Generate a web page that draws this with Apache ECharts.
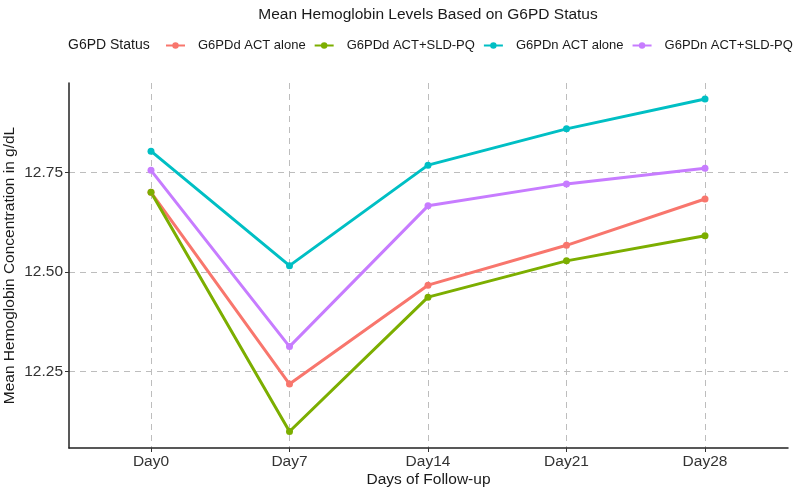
<!DOCTYPE html>
<html>
<head>
<meta charset="utf-8">
<script src="https://cdn.jsdelivr.net/npm/echarts@6/dist/echarts.min.js"></script>
<style>html,body{margin:0;padding:0;background:#fff;}#c{width:797px;height:489px;}</style>
</head>
<body>
<div id="c"></div>
<script>
const days = ['Day0', 'Day7', 'Day14', 'Day21', 'Day28'];
const seriesNames = ['G6PDd ACT alone', 'G6PDd ACT+SLD-PQ', 'G6PDn ACT alone', 'G6PDn ACT+SLD-PQ'];
const g6pdDActAlone = [12.70, 12.219, 12.467, 12.567, 12.683];
const g6pdDActSldPq = [12.70, 12.100, 12.437, 12.528, 12.591];
const g6pdNActAlone = [12.803, 12.516, 12.768, 12.859, 12.934];
const g6pdNActSldPq = [12.755, 12.313, 12.666, 12.721, 12.760];
const yTicks = [12.25, 12.5, 12.75];
const colors = ['#F8766D', '#7CAE00', '#00BFC4', '#C77CFF'];

const allVals = [g6pdDActAlone, g6pdDActSldPq, g6pdNActAlone, g6pdNActSldPq];
const yMin = 12.0587, yMax = 12.974;
const FONT = 'Liberation Sans';
const dash = {color: '#bdbdbd', width: 1, type: [6, 5]};

const chart = echarts.init(document.getElementById('c'));
chart.setOption({
  animation: false,
  textStyle: {fontFamily: FONT},
  title: [
    {text: 'Mean Hemoglobin Levels Based on G6PD Status', left: 423, top: 2, textAlign: 'center',
     textStyle: {fontFamily: FONT, fontSize: 15.5, fontWeight: 'normal', color: '#1a1a1a'}},
    {text: 'G6PD Status', left: 63, top: 33,
     textStyle: {fontFamily: FONT, fontSize: 14, fontWeight: 'normal', color: '#1a1a1a'}}
  ],
  legend: {
    data: seriesNames, left: 165, top: 39, width: 720, padding: 0, itemGap: 8, itemWidth: 19, itemHeight: 8,
    textStyle: {fontFamily: FONT, fontSize: 13, color: '#1a1a1a', padding: [0, 0, 0, 8]}
  },
  grid: [
    {left: 151, right: 92, top: 83, bottom: 41, outerBoundsMode: 'none', containLabel: false},
    {left: 69, right: 9, top: 83, bottom: 41, outerBoundsMode: 'none', containLabel: false}
  ],
  xAxis: [
    {type: 'category', gridIndex: 0, data: days, boundaryGap: false,
     axisLine: {show: false},
     axisTick: {show: true, length: 4, lineStyle: {color: '#333'}},
     axisLabel: {fontFamily: FONT, fontSize: 15.5, color: '#333', margin: 6},
     splitLine: {show: true, lineStyle: dash}},
    {type: 'value', gridIndex: 1, min: 0, max: 1,
     axisLine: {show: true, lineStyle: {color: '#222', width: 1.5}},
     axisTick: {show: false}, axisLabel: {show: false}, splitLine: {show: false},
     name: 'Days of Follow-up', nameLocation: 'middle', nameGap: 24, nameMoveOverlap: false,
     nameTextStyle: {fontFamily: FONT, fontSize: 15.5, color: '#1a1a1a'}}
  ],
  yAxis: [
    {type: 'value', gridIndex: 0, min: yMin, max: yMax, show: false, splitLine: {show: false}},
    {type: 'value', gridIndex: 1, min: yMin, max: yMax,
     axisLine: {show: true, lineStyle: {color: '#222', width: 1.5}},
     axisTick: {show: true, length: 4, customValues: yTicks, lineStyle: {color: '#333'}},
     axisLabel: {show: true, customValues: yTicks, fontFamily: FONT, fontSize: 15.5, color: '#333', margin: 6,
       formatter: v => v.toFixed(2)},
     splitLine: {show: true, lineStyle: dash},
     name: 'Mean Hemoglobin Concentration in g/dL', nameLocation: 'middle', nameGap: 51, nameRotate: 90,
     nameMoveOverlap: false,
     nameTextStyle: {fontFamily: FONT, fontSize: 15.5, color: '#1a1a1a'}}
  ],
  series: seriesNames.map((n, i) => ({
    name: n, type: 'line', xAxisIndex: 0, yAxisIndex: 0, data: allVals[i],
    symbol: 'circle', symbolSize: 7, color: colors[i],
    lineStyle: {width: 3, color: colors[i]}, itemStyle: {color: colors[i]}
  }))
});
</script>
</body>
</html>
